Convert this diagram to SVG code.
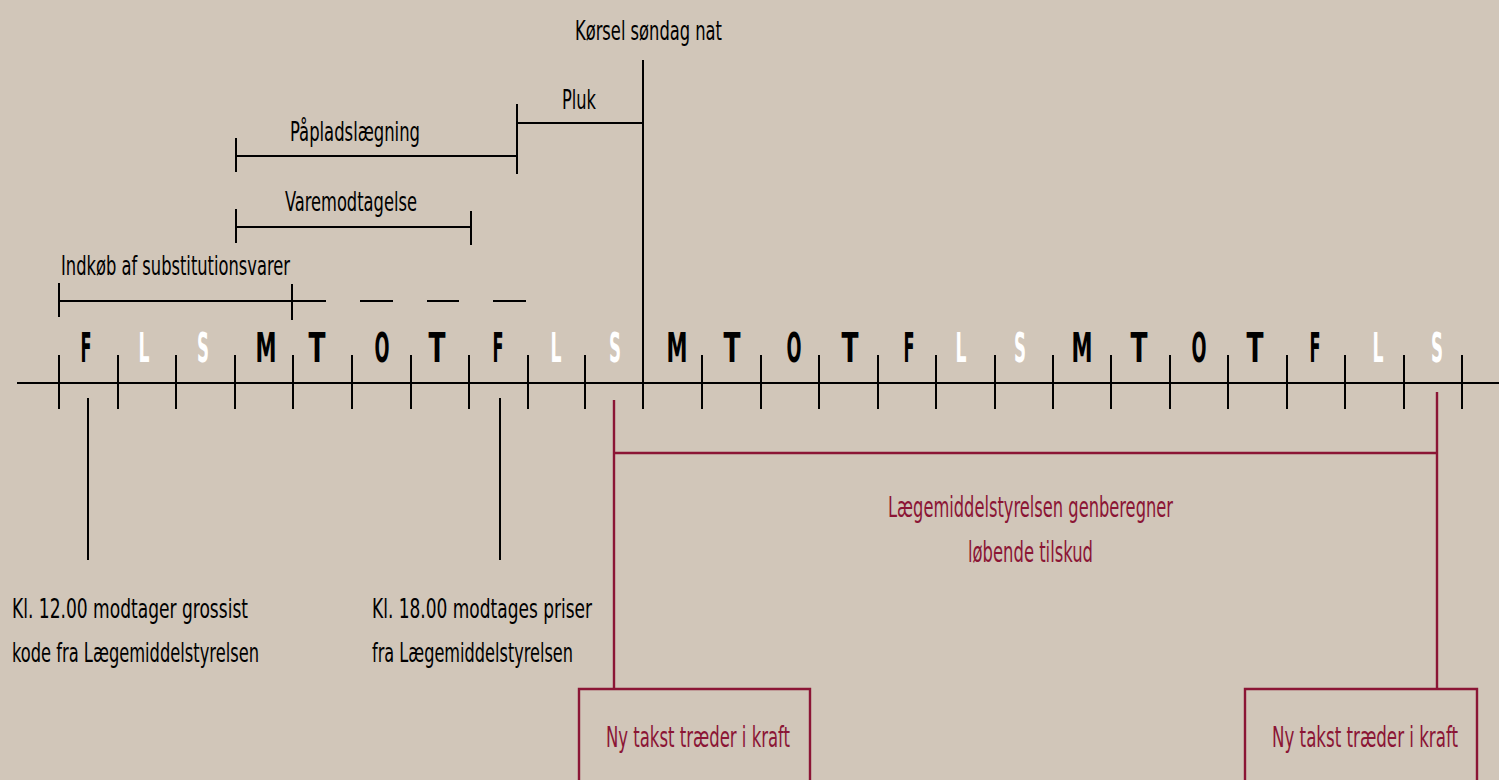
<svg xmlns="http://www.w3.org/2000/svg" width="1499" height="780" viewBox="0 0 1499 780">
<style>
.ln{stroke:#000;stroke-width:2;fill:none}
.rd{stroke:#8B1535;stroke-width:2.4;fill:none}
.day{font-family:"DejaVu Sans Condensed","Liberation Sans",sans-serif;font-weight:bold;font-size:40px;text-anchor:middle;fill:#000}
.wk{fill:#fff}
.lb{font-family:"DejaVu Sans Condensed","Liberation Sans",sans-serif;font-size:27px;fill:#000}
.rl{font-family:"DejaVu Sans Condensed","Liberation Sans",sans-serif;font-size:29px;fill:#8B1535}
</style>
<rect width="1499" height="780" fill="#D1C6B9"/>
<g id="connectors">
<line class="ln" x1="17" y1="383" x2="1499" y2="383"/>
<path class="ln" d="M59 355V409M118 355V409M176 355V409M235 355V409M293 355V409M352 355V409M411 355V409M469 355V409M528 355V409M585 355V409M702 355V409M761 355V409M819 355V409M878 355V409M936 355V409M995 355V409M1053 355V409M1111 355V409M1170 355V409M1228 355V409M1287 355V409M1345 355V409M1404 355V409M1462 355V409"/>
<line class="ln" x1="643" y1="60" x2="643" y2="409"/>
<line class="ln" x1="88" y1="398" x2="88" y2="560"/>
<line class="ln" x1="500" y1="398" x2="500" y2="560"/>
<path class="rd" d="M614 400V689M1437 392V689M614 453H1437"/>
</g>
<g id="pluk">
<path class="ln" d="M517 123H643M517 104V174"/>
<text class="lb" x="562" y="109" textLength="34" lengthAdjust="spacingAndGlyphs">Pluk</text>
</g>
<g id="paapladslaegning">
<path class="ln" d="M236 156H517M236 138V172"/>
<text class="lb" x="290" y="141" textLength="130" lengthAdjust="spacingAndGlyphs">Påpladslægning</text>
</g>
<g id="varemodtagelse">
<path class="ln" d="M236 227H471M236 209V243M471 211V245"/>
<text class="lb" x="285" y="211" textLength="132" lengthAdjust="spacingAndGlyphs">Varemodtagelse</text>
</g>
<g id="indkoeb">
<path class="ln" d="M59 301H292M59 283V317M292 284V320M292 301H326M360 301H393M427 301H459M493 301H526"/>
<text class="lb" x="61" y="275" textLength="229" lengthAdjust="spacingAndGlyphs">Indkøb af substitutionsvarer</text>
</g>
<g id="koersel">
<text class="lb" x="575" y="40" textLength="147" lengthAdjust="spacingAndGlyphs">Kørsel søndag nat</text>
</g>
<g id="days">
<text class="day" x="86" y="362" textLength="11" lengthAdjust="spacingAndGlyphs">F</text>
<text class="day wk" x="144" y="362" textLength="11" lengthAdjust="spacingAndGlyphs">L</text>
<text class="day wk" x="203" y="362" textLength="12" lengthAdjust="spacingAndGlyphs">S</text>
<text class="day" x="266" y="362" textLength="21" lengthAdjust="spacingAndGlyphs">M</text>
<text class="day" x="317" y="362" textLength="17" lengthAdjust="spacingAndGlyphs">T</text>
<text class="day" x="382" y="362" textLength="15" lengthAdjust="spacingAndGlyphs">O</text>
<text class="day" x="437" y="362" textLength="17" lengthAdjust="spacingAndGlyphs">T</text>
<text class="day" x="498" y="362" textLength="11" lengthAdjust="spacingAndGlyphs">F</text>
<text class="day wk" x="556" y="362" textLength="11" lengthAdjust="spacingAndGlyphs">L</text>
<text class="day wk" x="615" y="362" textLength="12" lengthAdjust="spacingAndGlyphs">S</text>
<text class="day" x="677" y="362" textLength="21" lengthAdjust="spacingAndGlyphs">M</text>
<text class="day" x="732" y="362" textLength="17" lengthAdjust="spacingAndGlyphs">T</text>
<text class="day" x="794" y="362" textLength="15" lengthAdjust="spacingAndGlyphs">O</text>
<text class="day" x="850" y="362" textLength="17" lengthAdjust="spacingAndGlyphs">T</text>
<text class="day" x="909" y="362" textLength="11" lengthAdjust="spacingAndGlyphs">F</text>
<text class="day wk" x="961" y="362" textLength="11" lengthAdjust="spacingAndGlyphs">L</text>
<text class="day wk" x="1020" y="362" textLength="12" lengthAdjust="spacingAndGlyphs">S</text>
<text class="day" x="1082" y="362" textLength="21" lengthAdjust="spacingAndGlyphs">M</text>
<text class="day" x="1139" y="362" textLength="17" lengthAdjust="spacingAndGlyphs">T</text>
<text class="day" x="1199" y="362" textLength="15" lengthAdjust="spacingAndGlyphs">O</text>
<text class="day" x="1255" y="362" textLength="17" lengthAdjust="spacingAndGlyphs">T</text>
<text class="day" x="1315" y="362" textLength="11" lengthAdjust="spacingAndGlyphs">F</text>
<text class="day wk" x="1378" y="362" textLength="11" lengthAdjust="spacingAndGlyphs">L</text>
<text class="day wk" x="1437" y="362" textLength="12" lengthAdjust="spacingAndGlyphs">S</text>
</g>
<g id="note-kl12">
<text class="lb" x="12" y="618" textLength="236" lengthAdjust="spacingAndGlyphs">Kl. 12.00 modtager grossist</text>
<text class="lb" x="12" y="662" textLength="247" lengthAdjust="spacingAndGlyphs">kode fra Lægemiddelstyrelsen</text>
</g>
<g id="note-kl18">
<text class="lb" x="372" y="618" textLength="220" lengthAdjust="spacingAndGlyphs">Kl. 18.00 modtages priser</text>
<text class="lb" x="372" y="662" textLength="201" lengthAdjust="spacingAndGlyphs">fra Lægemiddelstyrelsen</text>
</g>
<g id="genberegner">
<text class="rl" x="888" y="517" textLength="285" lengthAdjust="spacingAndGlyphs">Lægemiddelstyrelsen genberegner</text>
<text class="rl" x="968" y="562" textLength="125" lengthAdjust="spacingAndGlyphs">løbende tilskud</text>
</g>
<g id="takst1">
<path class="rd" d="M579 790V689H810V790"/>
<text class="rl" transform="translate(698,747) scale(0.62,1)" text-anchor="middle" textLength="297" lengthAdjust="spacingAndGlyphs">Ny takst træder i kraft</text>
</g>
<g id="takst2">
<path class="rd" d="M1245 790V689H1477V790"/>
<text class="rl" transform="translate(1365,747) scale(0.62,1)" text-anchor="middle" textLength="300" lengthAdjust="spacingAndGlyphs">Ny takst træder i kraft</text>
</g>
</svg>
